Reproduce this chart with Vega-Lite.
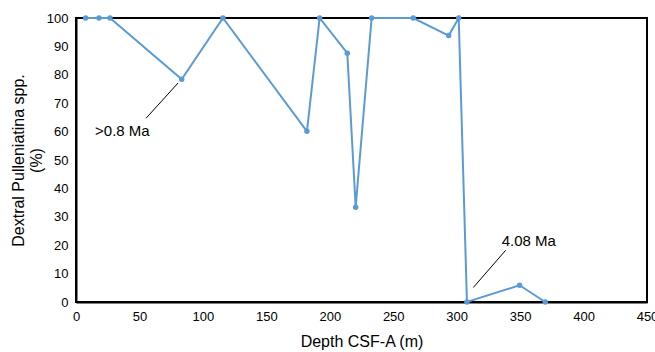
{
  "$schema": "https://vega.github.io/schema/vega-lite/v6.json",
  "width": 571,
  "height": 284,
  "autosize": {"type": "none"},
  "padding": {"left": 76, "top": 18, "right": 8, "bottom": 50},
  "background": "white",
  "config": {
    "font": "Liberation Sans",
    "view": {"stroke": "black", "strokeWidth": 2},
    "axis": {
      "grid": false,
      "domainColor": "black",
      "domainWidth": 2,
      "labelFont": "Liberation Sans",
      "labelFontSize": 13,
      "labelColor": "black",
      "titleFont": "Liberation Sans",
      "titleFontSize": 16,
      "titleFontWeight": "normal",
      "titleColor": "black"
    }
  },
  "datasets": {
    "pts": [
      {"depth": 7.6, "pct": 100},
      {"depth": 18.1, "pct": 100},
      {"depth": 26.8, "pct": 100},
      {"depth": 83.3, "pct": 78.4},
      {"depth": 115.8, "pct": 100},
      {"depth": 182, "pct": 60.1},
      {"depth": 192, "pct": 100},
      {"depth": 213.8, "pct": 87.6},
      {"depth": 220.4, "pct": 33.4},
      {"depth": 233, "pct": 100},
      {"depth": 265.8, "pct": 100},
      {"depth": 293.7, "pct": 93.8},
      {"depth": 301.6, "pct": 100},
      {"depth": 308.1, "pct": 0},
      {"depth": 349.6, "pct": 5.9},
      {"depth": 369.8, "pct": 0}
    ],
    "leaders": [
      {"depth": 55.2, "pct": 64.7, "depth2": 80.4, "pct2": 77.1},
      {"depth": 313.1, "pct": 5.1, "depth2": 338.6, "pct2": 18.2}
    ],
    "labels": [
      {"depth": 15, "pct": 60.2, "label": ">0.8 Ma"},
      {"depth": 335.5, "pct": 21.6, "label": "4.08 Ma"}
    ]
  },
  "layer": [
    {
      "data": {"name": "pts"},
      "mark": {"type": "line", "color": "#5B9BD5", "strokeWidth": 2, "clip": false},
      "encoding": {
        "x": {"field": "depth", "type": "quantitative", "scale": {"domain": [0, 450], "nice": false},
              "axis": {"tickCount": 9, "ticks": false, "labelOverlap": false, "labelFlush": false, "labelBound": false, "title": "Depth CSF-A (m)", "labelPadding": 8, "titlePadding": 10}},
        "y": {"field": "pct", "type": "quantitative", "scale": {"domain": [0, 100], "nice": false},
              "axis": {"tickCount": 10, "ticks": false, "labelOverlap": false, "labelFlush": false, "labelBound": false, "title": ["Dextral Pulleniatina spp.", "(%)"], "labelPadding": 8, "titlePadding": 2}}
      }
    },
    {
      "data": {"name": "pts"},
      "mark": {"type": "point", "filled": true, "color": "#5B9BD5", "size": 30, "opacity": 1, "clip": false},
      "encoding": {
        "x": {"field": "depth", "type": "quantitative"},
        "y": {"field": "pct", "type": "quantitative"}
      }
    },
    {
      "data": {"name": "leaders"},
      "mark": {"type": "rule", "color": "black", "strokeWidth": 1},
      "encoding": {
        "x": {"field": "depth", "type": "quantitative"},
        "y": {"field": "pct", "type": "quantitative"},
        "x2": {"field": "depth2"},
        "y2": {"field": "pct2"}
      }
    },
    {
      "data": {"name": "labels"},
      "mark": {"type": "text", "align": "left", "baseline": "middle", "fontSize": 15, "color": "black", "font": "Liberation Sans"},
      "encoding": {
        "x": {"field": "depth", "type": "quantitative"},
        "y": {"field": "pct", "type": "quantitative"},
        "text": {"field": "label"}
      }
    }
  ]
}
